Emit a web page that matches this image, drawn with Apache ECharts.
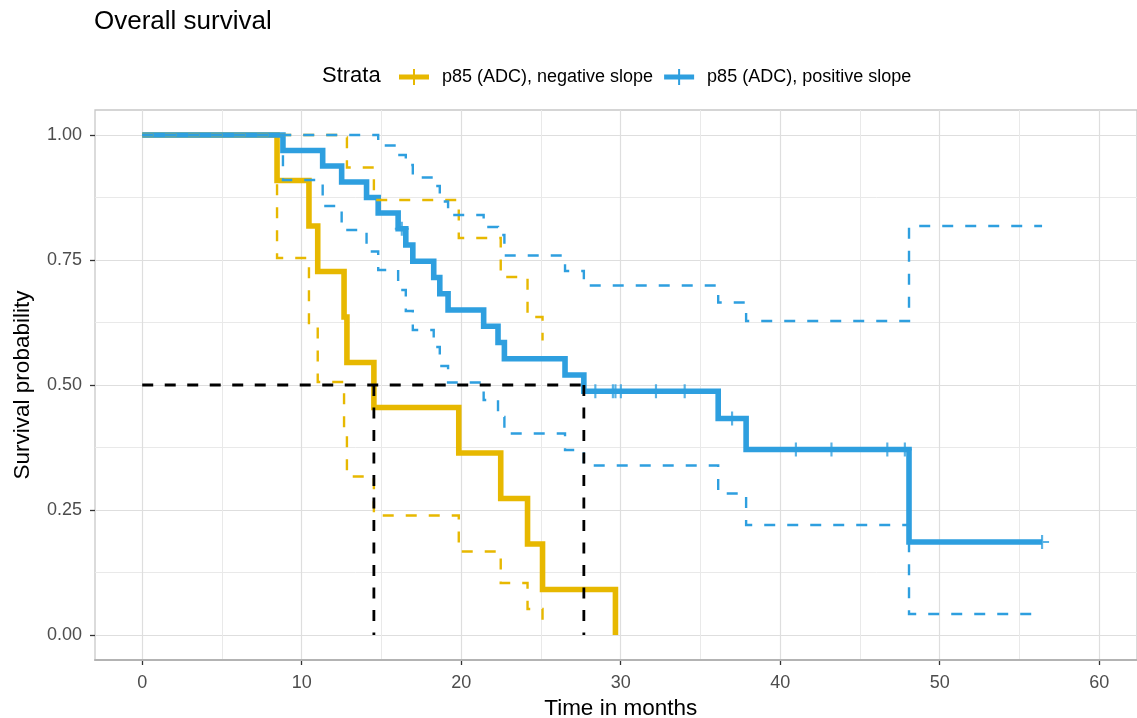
<!DOCTYPE html>
<html>
<head>
<meta charset="utf-8">
<script src="https://cdn.jsdelivr.net/npm/echarts@6/dist/echarts.min.js"></script>
<style>
  html, body { margin: 0; padding: 0; background: #fff; }
  #chart { width: 1137px; height: 718px; }
</style>
</head>
<body>
<div id="chart"></div>
<script>
// p85 (ADC), negative slope
const negTime  = [0, 8.45, 10.45, 11.0, 12.65, 12.83, 14.52, 19.84, 22.47, 24.15, 25.09, 29.66];
const negSurv  = [1, 0.909, 0.818, 0.727, 0.636, 0.545, 0.455, 0.364, 0.273, 0.182, 0.091, 0];
const negUpper = [1, 1, 1, 1, 0.995, 0.935, 0.87, 0.794, 0.716, 0.636, 0.589];
const negLower = [1, 0.754, 0.62, 0.506, 0.41, 0.317, 0.239, 0.167, 0.104, 0.052, 0.014];

// p85 (ADC), positive slope
const posTime  = [0, 8.82, 11.31, 12.5, 14.06, 14.79, 16.04, 16.52, 16.96, 18.27, 18.65, 19.17, 21.4, 22.3, 22.7, 26.5, 27.68, 36.1, 37.85, 48.06, 56.4];
const posSurv  = [1, 0.969, 0.938, 0.906, 0.875, 0.844, 0.8125, 0.78, 0.7475, 0.715, 0.6825, 0.65, 0.6175, 0.585, 0.5525, 0.52, 0.4875, 0.433, 0.371, 0.186, 0.186];
const posUpper = [1, 1, 1, 1, 1, 0.979, 0.96, 0.94, 0.915, 0.898, 0.867, 0.84, 0.816, 0.8, 0.759, 0.728, 0.699, 0.665, 0.628, 0.818, 0.818];
const posLower = [1, 0.91, 0.858, 0.81, 0.767, 0.73, 0.69, 0.648, 0.61, 0.576, 0.538, 0.505, 0.47, 0.436, 0.403, 0.37, 0.339, 0.283, 0.22, 0.042, 0.042];
const posCensorTime = [16.27, 28.4, 29.5, 29.66, 30.0, 32.2, 34.0, 36.97, 40.97, 43.2, 46.7, 47.8, 56.4];
const posCensorSurv = [0.8125, 0.4875, 0.4875, 0.4875, 0.4875, 0.4875, 0.4875, 0.433, 0.371, 0.371, 0.371, 0.371, 0.186];

const medianTimes = [14.52, 27.68];
const medianLevel = 0.5;

const xTicks = [0, 10, 20, 30, 40, 50, 60];
const yTicks = [0, 0.25, 0.5, 0.75, 1];

const strataNames = ['p85 (ADC), negative slope', 'p85 (ADC), positive slope'];
const colors = ['#E7B800', '#2E9FDF'];

const FONT = 'Liberation Sans, Arial, sans-serif';
const PLUS = 'path://M5.5,0 H7.5 V5.5 H13 V7.5 H7.5 V13 H5.5 V7.5 H0 V5.5 H5.5 Z';
const LEGEND_ICON = 'path://M0,5.5 H14 V0 H16 V5.5 H30 V10.5 H16 V16 H14 V10.5 H0 Z';

const zip = (xs, ys) => ys.map((y, i) => [xs[i], y]);

function stepLine(name, data, color, width, dashed, z) {
  return {
    name,
    type: 'line',
    step: 'end',
    data,
    xAxisIndex: 0,
    yAxisIndex: 0,
    showSymbol: false,
    symbol: 'none',
    color,
    lineStyle: {
      color,
      width,
      type: dashed ? [11, 12] : 'solid',
      cap: 'butt',
      join: 'miter',
    },
    silent: true,
    z,
  };
}

const chart = echarts.init(document.getElementById('chart'));

chart.setOption({
  animation: false,
  backgroundColor: '#fff',
  textStyle: { fontFamily: FONT },
  title: [
    {
      text: 'Overall survival',
      left: 94, top: 9, padding: 0,
      textStyle: { fontFamily: FONT, fontSize: 26, fontWeight: 'normal', color: '#000' },
    },
    {
      text: 'Strata',
      left: 322, top: 65, padding: 0,
      textStyle: { fontFamily: FONT, fontSize: 22, fontWeight: 'normal', color: '#000' },
    },
  ],
  legend: {
    left: 399, top: 68, padding: 0,
    itemWidth: 30, itemHeight: 16, itemGap: 11,
    selectedMode: false,
    textStyle: { fontFamily: FONT, fontSize: 18, color: '#000', padding: [0, 0, 0, 8] },
    data: strataNames.map((n) => ({ name: n, icon: LEGEND_ICON })),
  },
  grid: [
    // panel, data coordinates (with ggplot expansion)
    { left: 95, right: 0, top: 110, bottom: 58, outerBoundsMode: 'none', show: true, borderColor: '#C8C8C8', borderWidth: 1.3 },
    // x breaks
    { left: 142.2, right: 37.8, top: 110, bottom: 58, outerBoundsMode: 'none' },
    // y breaks
    { left: 95, right: 0, top: 135, bottom: 83, outerBoundsMode: 'none' },
  ],
  xAxis: [
    {
      gridIndex: 0, type: 'value', min: -2.96, max: 62.35,
      axisLine: { show: true, onZero: false, lineStyle: { color: '#B3B3B3', width: 2 } },
      axisTick: { show: false }, axisLabel: { show: false }, splitLine: { show: false },
      z: 3,
    },
    {
      gridIndex: 1, type: 'value', min: xTicks[0], max: xTicks[xTicks.length - 1], interval: 10,
      name: 'Time in months', nameLocation: 'middle', nameGap: 37,
      nameTextStyle: { fontFamily: FONT, fontSize: 22.5, color: '#000' },
      axisLine: { show: false, onZero: false },
      axisTick: { show: true, length: 5, lineStyle: { color: '#333', width: 1.3 } },
      axisLabel: { margin: 14, fontFamily: FONT, fontSize: 18, color: '#4D4D4D' },
      splitLine: { show: true, lineStyle: { color: '#DEDEDE', width: 1.2 } },
      minorTick: { show: false, splitNumber: 2 },
      minorSplitLine: { show: true, lineStyle: { color: '#E9E9E9', width: 1 } },
    },
    { gridIndex: 2, type: 'value', min: 0, max: 1, show: false },
  ],
  yAxis: [
    {
      gridIndex: 0, type: 'value', min: -0.05, max: 1.05,
      axisLine: { show: false, onZero: false }, axisTick: { show: false }, axisLabel: { show: false }, splitLine: { show: false },
    },
    { gridIndex: 1, type: 'value', min: 0, max: 1, show: false },
    {
      gridIndex: 2, type: 'value', min: yTicks[0], max: yTicks[yTicks.length - 1], interval: 0.25,
      name: 'Survival probability', nameLocation: 'middle', nameGap: 61,
      nameTextStyle: { fontFamily: FONT, fontSize: 22.5, color: '#000' },
      axisLine: { show: false, onZero: false },
      axisTick: { show: true, length: 5, lineStyle: { color: '#333', width: 1.3 } },
      axisLabel: { margin: 13, fontFamily: FONT, fontSize: 18, color: '#4D4D4D', formatter: (v) => v.toFixed(2) },
      splitLine: { show: true, lineStyle: { color: '#DEDEDE', width: 1.2 } },
      minorTick: { show: false, splitNumber: 2 },
      minorSplitLine: { show: true, lineStyle: { color: '#E9E9E9', width: 1 } },
    },
  ],
  series: [
    stepLine(strataNames[0], zip(negTime, negSurv), colors[0], 5.6, false, 3),
    stepLine(strataNames[1], zip(posTime, posSurv), colors[1], 5.6, false, 4),
    stepLine('neg upper', zip(negTime, negUpper), colors[0], 2.4, true, 5),
    stepLine('neg lower', zip(negTime, negLower), colors[0], 2.4, true, 5),
    stepLine('pos upper', zip(posTime, posUpper), colors[1], 2.4, true, 5),
    stepLine('pos lower', zip(posTime, posLower), colors[1], 2.4, true, 5),
    {
      name: 'pos censor',
      type: 'scatter',
      data: zip(posCensorTime, posCensorSurv),
      symbol: PLUS,
      symbolSize: 14,
      itemStyle: { color: colors[1] },
      silent: true,
      z: 6,
    },
    {
      name: 'median h',
      type: 'line',
      data: [[0, medianLevel], [Math.max(...medianTimes), medianLevel]],
      showSymbol: false, symbol: 'none', silent: true, z: 7,
      lineStyle: { color: '#000', width: 2.8, type: [11, 11.5] },
    },
    ...medianTimes.map((t, i) => ({
      name: 'median v' + i,
      type: 'line',
      data: [[t, medianLevel], [t, 0]],
      showSymbol: false, symbol: 'none', silent: true, z: 7,
      lineStyle: { color: '#000', width: 2.8, type: [11, 11.5] },
    })),
  ],
});
</script>
</body>
</html>
